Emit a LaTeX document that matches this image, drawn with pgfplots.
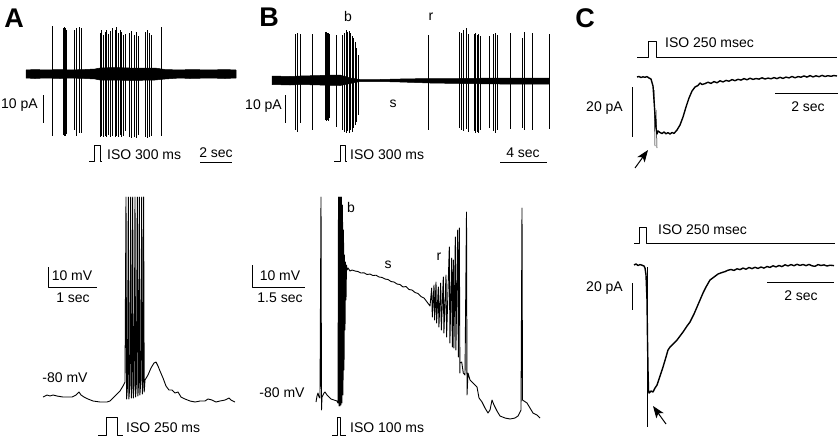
\documentclass[border=0pt]{standalone}
\usepackage{fontspec}
\setmainfont{Liberation Sans}
\usepackage{pgfplots}
\pgfplotsset{compat=1.18}
\usetikzlibrary{arrows.meta}

\begin{document}
\begin{tikzpicture}[every node/.append style={font=\fontsize{14}{16}\selectfont, inner sep=1pt}]
\begin{axis}[
  x=1pt, y=1pt,
  xmin=0, xmax=840, ymin=0, ymax=437,
  y dir=reverse,
  hide axis,
  clip=false,
  unbounded coords=jump,
  every axis plot/.append style={black, line join=round},
]
\coordinate (bl) at (rel axis cs:0,0);
\coordinate (tr) at (rel axis cs:1,1);

% ---------- panel letters
\node[font=\fontsize{27}{30}\selectfont\bfseries] at (axis cs:14,18) {A};
\node[font=\fontsize{27}{30}\selectfont\bfseries] at (axis cs:269,17) {B};
\node[font=\fontsize{27}{30}\selectfont\bfseries] at (axis cs:585,18) {C};

% ================= A top: cell-attached recording
\addplot[fill=black, draw=black, line width=0.5pt] coordinates {
  (26,70) (35,69.5) (45,70) (60,69.5) (70,70) (85,69.5) (95,69) (100,68) (115,67.5) (130,68) (155,68) (165,69.5) (180,70) (190,69.5) (210,70) (225,69.5) (236,70)
  (236,78) (225,78.5) (210,78) (190,78.5) (180,78) (165,79) (155,80) (130,80.5) (115,80) (100,80) (95,79) (85,78.5) (70,78) (60,78.5) (45,78) (35,78.5) (26,78)
} -- cycle;
\addplot[line width=0.8pt] coordinates {
  (52.7,26) (52.7,136) (52.7,nan)
  (63.5,28) (63.5,135) (63.5,nan) (64.5,27) (64.5,136) (64.5,nan)
  (65.5,28) (65.5,136) (65.5,nan) (66.5,30) (66.5,134) (66.5,nan)
  (74.3,30) (74.3,130) (74.3,nan) (76.7,28) (76.7,136) (76.7,nan)
  (79,27) (79,133) (79,nan) (81.7,28) (81.7,133) (81.7,nan)
  (100,33) (100,137) (100,nan) (101.7,30) (101.7,136) (101.7,nan)
  (103.3,35) (103.3,137) (103.3,nan) (105,32) (105,136) (105,nan)
  (106.7,30) (106.7,137) (106.7,nan) (108.3,34) (108.3,135) (108.3,nan)
  (110.7,31) (110.7,137) (110.7,nan) (112.7,28) (112.7,136) (112.7,nan)
  (115,30) (115,137) (115,nan) (116.7,27) (116.7,136) (116.7,nan)
  (118.3,33) (118.3,137) (118.3,nan) (120,30) (120,135) (120,nan)
  (121.7,32) (121.7,137) (121.7,nan) (123.3,35) (123.3,136) (123.3,nan)
  (125,34) (125,131) (125,nan)
  (129.3,33) (129.3,137) (129.3,nan) (131.7,31) (131.7,138) (131.7,nan)
  (134,35) (134,137) (134,nan) (136.7,32) (136.7,138) (136.7,nan)
  (138.7,36) (138.7,135) (138.7,nan)
  (145,32) (145,137) (145,nan) (147.3,30) (147.3,138) (147.3,nan)
  (149.3,33) (149.3,137) (149.3,nan) (151.7,35) (151.7,136) (151.7,nan)
  (161.7,27) (161.7,136)
};
% scale bar 10 pA
\addplot[line width=0.9pt] coordinates {(43,95) (43,123)};
\node[anchor=west] at (axis cs:0,105) {10 pA};
% stimulus
\addplot[line width=0.8pt] coordinates {(89,161) (94,161) (94,145) (100,145) (100,161) (102,161)};
\node[anchor=west] at (axis cs:106,155) {ISO 300 ms};
% time bar
\addplot[line width=0.9pt] coordinates {(200,162) (232,162)};
\node at (axis cs:216,153) {2 sec};

% ================= B top
\addplot[fill=black, draw=black, line width=0.5pt] coordinates {
  (272,76) (290,76.5) (300,76) (320,75.5) (340,75) (350,78) (360,79.5) (380,79.5) (400,79) (430,78.5) (460,78.5) (500,78) (549,78)
  (549,84) (500,84) (460,83.5) (430,83) (400,82) (380,81.5) (360,81.5) (350,83.5) (340,85.5) (320,85) (300,84.5) (290,85) (272,84.5)
} -- cycle;
\addplot[line width=0.8pt] coordinates {
  (295,34) (295,130) (295,nan) (297.7,33) (297.7,132) (297.7,nan)
  (300,34) (300,123) (300,nan) (312.3,34) (312.3,130) (312.3,nan)
  (325.5,32) (325.5,120) (325.5,nan) (326.5,32) (326.5,121) (326.5,nan)
  (327.5,33) (327.5,120) (327.5,nan) (328.5,33) (328.5,121) (328.5,nan)
  (329.5,34) (329.5,118) (329.5,nan)
  (336.7,35) (336.7,127) (336.7,nan) (342.3,35) (342.3,130) (342.3,nan)
  (344.5,33) (344.5,132) (344.5,nan) (346,30) (346,133) (346,nan)
  (347.5,32) (347.5,131) (347.5,nan) (349,31) (349,133) (349,nan)
  (350.5,33) (350.5,130) (350.5,nan) (352,36) (352,132) (352,nan)
  (353.5,38) (353.5,128) (353.5,nan) (355,42) (355,125) (355,nan)
  (356.5,48) (356.5,122) (356.5,nan) (358,55) (358,115) (358,nan)
  (428.3,35) (428.3,130) (428.3,nan)
  (459.3,32) (459.3,128) (459.3,nan) (461,33) (461,130) (461,nan)
  (463.3,30) (463.3,131) (463.3,nan) (466,28) (466,129) (466,nan)
  (468.3,34) (468.3,132) (468.3,nan)
  (474,34) (474,131) (474,nan) (475.5,33) (475.5,133) (475.5,nan)
  (477,35) (477,132) (477,nan) (478.5,34) (478.5,133) (478.5,nan)
  (480,36) (480,130) (480,nan) (489.3,36) (489.3,128) (489.3,nan)
  (493.3,34) (493.3,131) (493.3,nan) (495,33) (495,133) (495,nan)
  (497.3,35) (497.3,130) (497.3,nan) (510,33) (510,129) (510,nan)
  (522.3,38) (522.3,128) (522.3,nan) (524.3,32) (524.3,130) (524.3,nan)
  (532.3,33) (532.3,130) (532.3,nan) (549.3,34) (549.3,129)
};
\node at (axis cs:348,16) {b};
\node at (axis cs:431,17) {r};
\node at (axis cs:393,104) {s};
\addplot[line width=0.9pt] coordinates {(285,95) (285,123)};
\node[anchor=east] at (axis cs:283,106) {10 pA};
\addplot[line width=0.8pt] coordinates {(334,161) (340,161) (340,145) (345,145) (345,161) (347,161)};
\node[anchor=west] at (axis cs:349,155) {ISO 300 ms};
\addplot[line width=0.9pt] coordinates {(500,162) (547,162)};
\node at (axis cs:523,153) {4 sec};

% ================= C top
\addplot[line width=0.8pt] coordinates {(637,57) (648,57) (648,41) (656,41) (656,57) (837,57)};
\node[anchor=west] at (axis cs:664,43) {ISO 250 msec};
\addplot[line width=1.4pt] coordinates {
  (637,77) (639,76.5) (641,77.5) (643,76.8) (645,77.3) (647,76.6) (649,78) (651,79) (653,86) (654,100) (655,115) (656,128)
  (657,134) (658,131) (660,132.5) (662,133.5) (664,132) (666,133.8) (668,132.6) (670,134) (672,132.5) (674,133.4) (677,130)
  (680,125) (683,117) (686,107) (689,98) (692,91) (695,87) (698,85.5) (700,83) (702,84.5) (705,83.6) (708,82.2) (711,83.4)
  (714,81.6) (717,82.8) (720,80.8) (723,81.9) (726,80.4) (729,81.2) (732,79.6) (735,80.7) (738,79.3) (741,80.1) (744,78.6)
  (747,79.8) (750,78.2) (753,79.4) (756,78.5) (759,79.1) (762,77.8) (765,79.0) (768,78.1) (771,78.8) (774,77.6) (777,78.6)
  (780,77.3) (783,78.4) (786,77.1) (789,77.9) (792,76.5) (795,77.8) (798,76.6) (801,77.2) (804,75.9) (807,77.1) (810,75.6)
  (813,76.9) (816,75.8) (819,76.7) (822,75.4) (825,76.5) (828,75.7) (831,76.3) (834,75.5) (837,76)
};
\addplot[line width=0.5pt] coordinates {(654,90) (655,146) (655,nan) (656,110) (657,148)};
\addplot[line width=0.9pt] coordinates {(632,87) (632,137)};
\node[anchor=east] at (axis cs:624,108) {20 pA};
\addplot[line width=0.9pt] coordinates {(775,93) (838,93)};
\node at (axis cs:808,107) {2 sec};
\addplot[line width=1pt, -{Stealth[length=12pt, width=9pt, inset=3pt]}] coordinates {(635,168) (648,150)};

% ================= A bottom: membrane potential
\addplot[line width=0.9pt] coordinates {
  (43,397) (47,395) (50,396) (53,395) (57,396) (63,397) (67,397) (72,397) (76,395) (79,392)
  (81,395) (84,397) (88,399) (93,401) (100,402) (107,402) (110,401) (113,398) (117,394)
  (120,391) (123,386) (125,382)
  (126,197) (126.6,399) (127.5,386) (128.3,197) (128.9,399) (129.8,386)
  (130.7,197) (131.3,398) (132,385) (132.7,197) (133.3,398) (134.2,384)
  (135,197) (135.6,397) (136.4,383) (137.3,197) (137.9,396) (138.6,382)
  (139.3,197) (139.9,395) (140.8,381) (141.7,197) (142.3,394) (142.9,380)
  (143.6,197) (144.2,392) (145,380)
  (148,375) (151,368) (154,363) (156,362) (158,366) (160,371) (163,378) (166,386) (169,390)
  (172,390) (175,393) (178,392) (181,397) (185,399) (190,401) (195,402) (200,401) (205,401)
  (208,399) (212,400) (216,402) (220,401) (225,400) (229,398) (231,400) (235,402)
};
\addplot[line width=0.9pt] coordinates {(48,267) (48,287) (97,287)};
\node at (axis cs:72,276) {10 mV};
\node at (axis cs:73,298) {1 sec};
\node at (axis cs:65,378) {-80 mV};
\addplot[line width=0.8pt] coordinates {(98,435) (106,435) (106,417) (117,417) (117,435) (123,435)};
\node[anchor=west] at (axis cs:125,428) {ISO 250 ms};

% ================= B bottom
\addplot[line width=0.9pt] coordinates {
  (316,402) (317,396) (318,393) (319,397) (320,398) (321,197) (321.5,410) (322,397) (324,393)
  (325,392) (327,395) (329,397) (331,399) (334,400) (337,401) (338,403)
  (338.5,197) (339,406) (339.5,197) (340,406) (340.5,197) (341,405) (341.5,197) (342,403)
  (342.5,205) (343,395) (343.5,230) (344,370) (344.5,255) (345,330) (345.5,262) (346,300)
  (346.5,265) (347,270) (348,268) (350,271) (352,270)
  (355,271) (358,271.5) (361,273) (364,272.8) (367,274.5) (370,274) (373,275.5) (376,275.2) (379,277) (382,277.4)
  (385,279) (388,279.5) (391,281.5) (394,282) (397,284) (400,284.5) (403,287) (406,286.5) (409,289.5)
  (412,290) (415,292.5) (418,293.5) (421,296.5) (424,298) (427,302) (430,306)
  (431.7,288) (432.3,317) (434,285) (434.6,320) (436,282) (436.6,323) (438.3,287) (438.9,327)
  (440.7,283) (441.3,330) (443.3,277) (443.9,333) (446,275) (446.6,337) (449.3,247) (449.9,343)
  (451.7,258) (452.3,347) (453.3,260) (453.9,348) (455.3,237) (455.9,350) (457.7,230) (458.3,357)
  (459.3,228) (459.9,373) (460,363) (461.7,362) (463.3,373) (465,375) (466.5,212) (467,395)
  (468,373) (470,380) (473,383) (477,387) (479,398) (482,402) (485,408) (488,413) (490,410)
  (492,400) (494,405) (497,411) (500,416) (505,418) (510,419) (515,418) (518,416) (521,410)
  (522,208) (522.5,400) (524,401) (527,403) (530,408) (533,413) (537,415) (540,418)
};
\node at (axis cs:351,207) {b};
\node at (axis cs:388,265) {s};
\node at (axis cs:439,257) {r};
\addplot[line width=0.9pt] coordinates {(252,265) (252,287) (305,287)};
\node at (axis cs:280,276) {10 mV};
\node at (axis cs:280,298) {1.5 sec};
\node at (axis cs:282,393) {-80 mV};
\addplot[line width=0.8pt] coordinates {(332,435) (337,435) (337,417) (340,417) (340,435) (346,435)};
\node[anchor=west] at (axis cs:349,428) {ISO 100 ms};

% ================= C bottom
\addplot[line width=0.8pt] coordinates {(634,243) (639,243) (639,227) (646,227) (646,243) (835,243)};
\node[anchor=west] at (axis cs:657,230) {ISO 250 msec};
\addplot[line width=1.4pt] coordinates {
  (634,265) (636,264) (638,265.5) (640,264.6) (642,265.2) (644,266) (645,268) (646,275) (647,300)
  (647.5,340) (648,370) (648.5,390) (649,393) (651,391) (653,392) (655,388) (657,385) (660,376)
  (663,367) (666,357) (668,350) (670,347) (672,345) (674,343) (677,340) (680,336) (683,332) (687,326) (690,322)
  (694,314) (697,307) (700,300) (703,293) (706,287) (710,280) (714,277) (718,274) (722,272.5)
  (725,271.6) (728,270.2) (731,269.5) (734,270.4) (737,268.8) (740,269.6) (743,268.1) (746,269.2) (749,267.5)
  (752,268.6) (755,267.3) (758,268.4) (761,267.0) (764,268.1) (767,266.5) (770,267.4) (773,265.8) (776,266.9)
  (779,265.5) (782,266.6) (785,264.8) (788,265.9) (791,264.6) (794,265.7) (797,264.3) (800,265.4) (803,264.5)
  (806,265.6) (809,264.4) (812,265.8) (815,266.3) (818,264.6) (821,265.5) (824,264.9) (827,266.0) (830,265.2) (834,265.6)
};
\addplot[line width=0.6pt] coordinates {(647,267) (647,427)};
\addplot[line width=0.9pt] coordinates {(632,283) (632,310)};
\node[anchor=east] at (axis cs:624,288) {20 pA};
\addplot[line width=0.9pt] coordinates {(767,282) (834,282)};
\node at (axis cs:801,296) {2 sec};
\addplot[line width=1pt, -{Stealth[length=12pt, width=9pt, inset=3pt]}] coordinates {(666,424) (653,406)};
\end{axis}
\pgfresetboundingbox
\path[use as bounding box] (bl) rectangle (tr);
\end{tikzpicture}
\end{document}
